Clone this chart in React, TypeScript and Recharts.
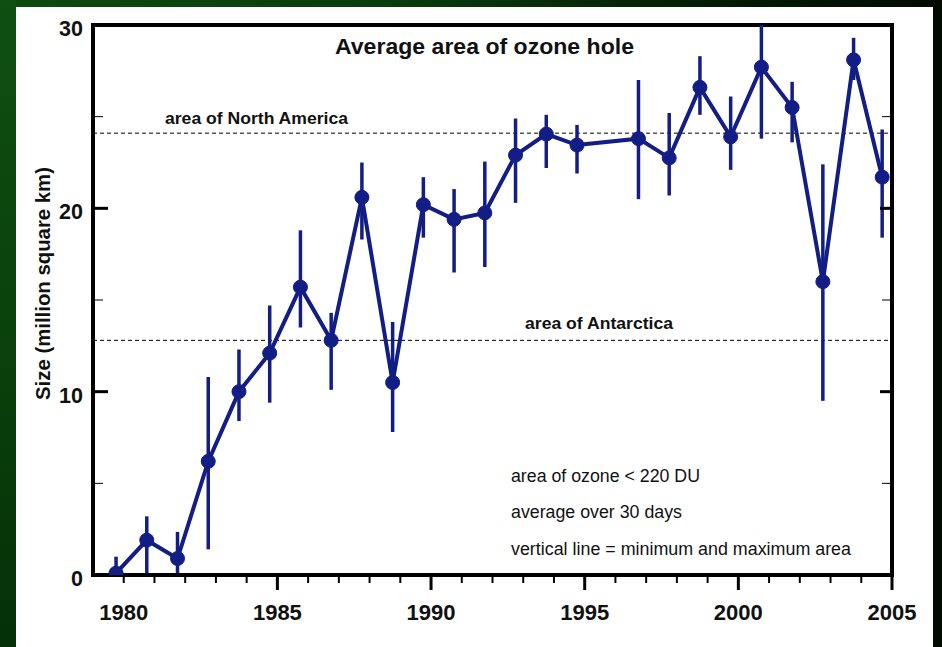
import React from 'react';
import { ComposedChart, Line, XAxis, YAxis, ErrorBar, ReferenceLine } from 'recharts';

// Season (year) positions of each point, mean ozone-hole area, min and max (million km²)
const seasonYears = [
  1979.75, 1980.75, 1981.75, 1982.75, 1983.75, 1984.75, 1985.75, 1986.75, 1987.75, 1988.75,
  1989.75, 1990.75, 1991.75, 1992.75, 1993.75, 1994.75, 1996.75, 1997.75, 1998.75, 1999.75,
  2000.75, 2001.75, 2002.75, 2003.75, 2004.68,
];
const meanArea = [
  0.1, 1.9, 0.9, 6.2, 10.0, 12.1, 15.7, 12.8, 20.6, 10.5,
  20.2, 19.4, 19.75, 22.9, 24.05, 23.45, 23.8, 22.75, 26.6, 23.9,
  27.7, 25.5, 16.0, 28.1, 21.7,
];
const minArea = [
  0, 0, 0, 1.4, 8.4, 9.4, 13.5, 10.1, 18.3, 7.8,
  18.4, 16.5, 16.8, 20.3, 22.2, 21.9, 20.5, 20.7, 25.1, 22.1,
  23.8, 23.6, 9.5, 27.0, 18.4,
];
const maxArea = [
  1.0, 3.2, 2.35, 10.8, 12.3, 14.7, 18.8, 14.3, 22.5, 13.8,
  21.7, 21.05, 22.55, 24.9, 25.1, 24.55, 27.0, 25.2, 28.3, 26.1,
  30.0, 26.9, 22.4, 29.3, 24.3,
];

const xTickYears = [
  1980, 1981, 1982, 1983, 1984, 1985, 1986, 1987, 1988, 1989, 1990, 1991, 1992,
  1993, 1994, 1995, 1996, 1997, 1998, 1999, 2000, 2001, 2002, 2003, 2004, 2005,
];
const xLabelYears = [1980, 1985, 1990, 1995, 2000, 2005];
const yTicks = [0, 5, 10, 15, 20, 25, 30];
const yLabelTicks = [0, 10, 20, 30];

const northAmericaArea = 24.1;
const antarcticaArea = 12.8;

const data = seasonYears.map((x, i) => ({
  x,
  area: meanArea[i],
  err: [meanArea[i] - minArea[i], maxArea[i] - meanArea[i]],
}));

const NAVY = '#121e86';
const FONT = '"Liberation Sans", Arial, sans-serif';

function XTick(props: any) {
  const { x, y, payload } = props;
  const v = payload.value;
  const major = v % 5 === 0 && v !== 1980;
  const labeled = xLabelYears.includes(v);
  return (
    <g>
      <line x1={x} x2={x} y1={y} y2={y + (major ? 15 : 8)} stroke="#000" strokeWidth={major ? 3 : 2} />
      {labeled && (
        <text x={x} y={y + 45} textAnchor="middle" fontFamily={FONT} fontWeight="bold" fontSize={22} fill="#111">
          {v}
        </text>
      )}
    </g>
  );
}

function YTickLeft(props: any) {
  const { x, y, payload } = props;
  const v = payload.value;
  const major = yLabelTicks.includes(v);
  return (
    <g>
      <line x1={x} x2={x + (major ? 15 : 10)} y1={y} y2={y} stroke="#000" strokeWidth={major ? 3 : 1} />
      {major && (
        <text x={x - 10} y={y + 11} textAnchor="end" fontFamily={FONT} fontWeight="bold" fontSize={21.5} fill="#111">
          {v}
        </text>
      )}
    </g>
  );
}

function YTickRight(props: any) {
  const { x, y, payload } = props;
  const v = payload.value;
  const major = yLabelTicks.includes(v);
  if (v === 0 || v === 30) return <g />;
  return (
    <g>
      <line x1={x} x2={x - (major ? 12 : 10)} y1={y} y2={y} stroke="#000" strokeWidth={major ? 3 : 1} />
    </g>
  );
}

export default function App() {
  return (
    <div
      style={{
        position: 'absolute',
        left: 0,
        top: 0,
        width: 942,
        height: 647,
        overflow: 'hidden',
        background: 'linear-gradient(to right, #0e4a10 0%, #0a3d0c 40%, #041c05 75%, #020a02 100%)',
      }}
    >
      <div
        style={{
          position: 'absolute',
          left: 0,
          top: 0,
          width: 16,
          height: 647,
          background: 'linear-gradient(to bottom, #0f4f12 0%, #0a420c 50%, #053007 100%)',
        }}
      />
      <div style={{ position: 'absolute', left: 16, top: 7, width: 917, height: 640, background: '#fff' }} />
      <div style={{ position: 'absolute', left: 0, top: 0 }}>
        <ComposedChart
          width={942}
          height={647}
          data={data}
          margin={{ top: 25, right: 40, bottom: 32, left: 33 }}
        >
          <XAxis
            type="number"
            dataKey="x"
            domain={[1979, 2005]}
            allowDataOverflow
            ticks={xTickYears}
            interval={0}
            tickLine={false}
            tickSize={0}
            tickMargin={0}
            height={40}
            axisLine={{ stroke: '#000', strokeWidth: 4, strokeLinecap: 'square' }}
            tick={(p: any) => <XTick {...p} />}
          />
          <YAxis
            type="number"
            domain={[0, 30]}
            allowDataOverflow
            ticks={yTicks}
            interval={0}
            tickLine={false}
            tickSize={0}
            tickMargin={0}
            width={60}
            axisLine={{ stroke: '#000', strokeWidth: 4, strokeLinecap: 'square' }}
            tick={(p: any) => <YTickLeft {...p} />}
          />
          <YAxis
            yAxisId="r"
            orientation="right"
            type="number"
            domain={[0, 30]}
            allowDataOverflow
            ticks={yTicks}
            interval={0}
            tickLine={false}
            tickSize={0}
            tickMargin={0}
            width={10}
            axisLine={{ stroke: '#000', strokeWidth: 4, strokeLinecap: 'square' }}
            tick={(p: any) => <YTickRight {...p} />}
          />
          <ReferenceLine y={30} stroke="#000" strokeWidth={4} strokeLinecap="square" />
          <ReferenceLine y={northAmericaArea} stroke="#000" strokeWidth={1} strokeDasharray="4 3" />
          <ReferenceLine y={antarcticaArea} stroke="#000" strokeWidth={1} strokeDasharray="4 3" />
          <Line
            type="linear"
            dataKey="area"
            stroke={NAVY}
            strokeWidth={4}
            dot={{ r: 7, fill: NAVY, stroke: NAVY, strokeWidth: 1 }}
            activeDot={false}
            isAnimationActive={false}
          >
            <ErrorBar dataKey="err" width={0} strokeWidth={3.5} stroke={NAVY} direction="y" />
          </Line>
        </ComposedChart>
      </div>
      <svg
        width={942}
        height={647}
        style={{ position: 'absolute', left: 0, top: 0, pointerEvents: 'none' }}
        fontFamily={FONT}
      >
        <text x={484.5} y={54} textAnchor="middle" fontSize={22} fontWeight="bold" fill="#111" textLength={299} lengthAdjust="spacingAndGlyphs">
          Average area of ozone hole
        </text>
        <text x={165} y={124} fontSize={16.5} fontWeight="bold" fill="#111" textLength={183} lengthAdjust="spacingAndGlyphs">
          area of North America
        </text>
        <text x={525} y={329} fontSize={16.5} fontWeight="bold" fill="#111" textLength={148} lengthAdjust="spacingAndGlyphs">
          area of Antarctica
        </text>
        <text x={511} y={482} fontSize={17.5} fill="#111" textLength={189} lengthAdjust="spacingAndGlyphs">
          area of ozone &lt; 220 DU
        </text>
        <text x={511} y={518} fontSize={17.5} fill="#111" textLength={171} lengthAdjust="spacingAndGlyphs">
          average over 30 days
        </text>
        <text x={511} y={555} fontSize={17.5} fill="#111" textLength={340} lengthAdjust="spacingAndGlyphs">
          vertical line = minimum and maximum area
        </text>
        <text
          transform="translate(50, 283.5) rotate(-90)"
          textAnchor="middle"
          fontSize={20.5}
          fontWeight="bold"
          fill="#111"
          textLength={233}
          lengthAdjust="spacingAndGlyphs"
        >
          Size (million square km)
        </text>
      </svg>
    </div>
  );
}
